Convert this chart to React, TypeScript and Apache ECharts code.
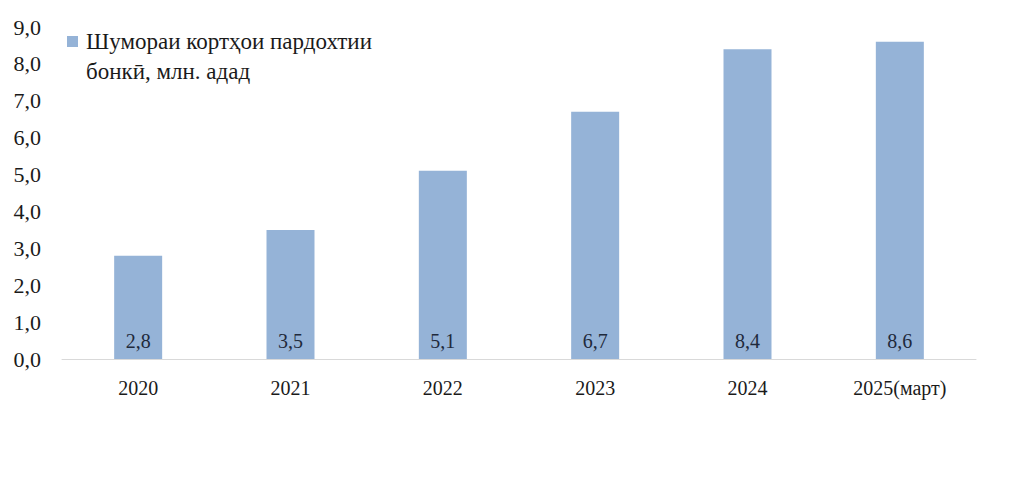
import React, { useEffect, useRef } from "react";
import * as echarts from "echarts";

const categories = ["2020", "2021", "2022", "2023", "2024", "2025(март)"];
const values = [2.8, 3.5, 5.1, 6.7, 8.4, 8.6];
const seriesName = "Шумораи кортҳои пардохтии\nбонкӣ, млн. адад";
const barColor = "#95b3d7";
const serif = "'Liberation Serif', 'DejaVu Serif', serif";

const fmt = (v: number) => v.toFixed(1).replace(".", ",");

export default function App() {
  const ref = useRef<HTMLDivElement>(null);
  useEffect(() => {
    if (!ref.current) return;
    const chart = echarts.init(ref.current, undefined, { renderer: "svg" });
    chart.setOption({
      animation: false,
      backgroundColor: "#ffffff",
      grid: { left: 62, right: 48, top: 27, bottom: 124, containLabel: false },
      xAxis: {
        type: "category",
        data: categories,
        axisLine: { show: true, lineStyle: { color: "#d9d9d9", width: 1 } },
        axisTick: { show: false },
        axisLabel: { color: "#1a1a1a", fontFamily: serif, fontSize: 20, margin: 19 },
      },
      yAxis: {
        type: "value",
        min: 0,
        max: 9,
        interval: 1,
        axisLine: { show: false },
        axisTick: { show: false },
        splitLine: { show: false },
        axisLabel: {
          color: "#1a1a1a",
          fontFamily: serif,
          fontSize: 22,
          margin: 21,
          formatter: (v: number) => fmt(v),
        },
      },
      series: [
        {
          name: seriesName,
          type: "bar",
          data: values,
          barWidth: 48,
          itemStyle: { color: barColor },
          label: {
            show: true,
            position: "insideBottom",
            distance: 8,
            color: "#1f2a3c",
            fontFamily: serif,
            fontSize: 20,
            formatter: (p: any) => fmt(p.value),
          },
        },
      ],
      graphic: [
        {
          type: "rect",
          left: 67,
          top: 36,
          shape: { width: 11, height: 11 },
          style: { fill: barColor },
        },
        {
          type: "text",
          left: 86,
          top: 26,
          style: {
            text: seriesName,
            fill: "#1a1a1a",
            font: `23px ${serif}`,
            lineHeight: 30,
          },
        },
      ],
    });
    return () => chart.dispose();
  }, []);
  return (
    <div
      ref={ref}
      style={{ position: "fixed", left: 0, top: 0, width: 1024, height: 483 }}
    />
  );
}
